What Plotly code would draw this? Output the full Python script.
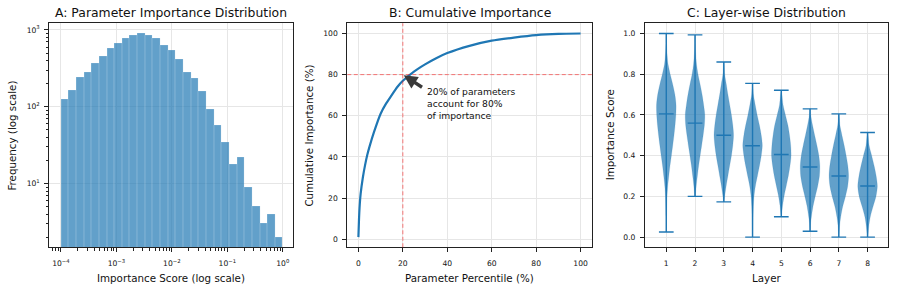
import numpy as np
import plotly.graph_objects as go

# ---------------- DATA ----------------
# Panel A: histogram (log-spaced bins from 1e-4 to 1, 29 bins)
hist_bin_edges = np.logspace(-4, 0, 30)
hist_counts = [126, 165, 239, 281, 371, 458, 571, 677, 787, 851, 905, 851, 787, 631,
               537, 410, 283, 234, 158, 94, 58, 34, 18, 22, 9, 5, 3, 4, 2]

# Panel B: cumulative importance curve
cum_percentile = [0, 0.25, 0.5, 1, 2, 3, 4, 5, 7, 10, 12.5, 15, 17.5, 20, 25, 30, 35,
                  40, 50, 60, 70, 80, 90, 100]
cum_importance = [1, 9, 15, 22, 30, 36, 41, 45, 52, 61, 66, 70, 74, 77, 81.5, 85, 88,
                  90.5, 94, 96.5, 98, 99.2, 99.8, 100]
annot_percentile = 20
annot_importance = 80

# Panel C: layer-wise violin summaries
layers = [1, 2, 3, 4, 5, 6, 7, 8]
layer_min = [0.025, 0.20, 0.173, 0.0, 0.10, 0.029, 0.0, 0.0]
layer_max = [1.0, 0.993, 0.86, 0.755, 0.721, 0.63, 0.605, 0.514]
layer_median = [0.605, 0.56, 0.50, 0.449, 0.406, 0.344, 0.30, 0.251]
# density profiles (score level, relative half-width)
layer_levels = [
    [0.025, 0.1, 0.2, 0.25, 0.3, 0.35, 0.4, 0.45, 0.5, 0.55, 0.6, 0.65, 0.7, 0.75, 0.8, 0.85, 0.9, 0.95, 1.0],
    [0.2, 0.25, 0.3, 0.35, 0.4, 0.45, 0.5, 0.55, 0.6, 0.65, 0.7, 0.75, 0.8, 0.85, 0.9, 0.95, 0.993],
    [0.173, 0.2, 0.25, 0.3, 0.35, 0.4, 0.45, 0.5, 0.55, 0.6, 0.65, 0.7, 0.75, 0.8, 0.86],
    [0.0, 0.05, 0.1, 0.15, 0.2, 0.25, 0.3, 0.35, 0.4, 0.45, 0.5, 0.55, 0.6, 0.65, 0.7, 0.755],
    [0.1, 0.15, 0.2, 0.25, 0.3, 0.35, 0.4, 0.45, 0.5, 0.55, 0.6, 0.65, 0.721],
    [0.029, 0.07, 0.1, 0.15, 0.2, 0.25, 0.3, 0.35, 0.4, 0.45, 0.5, 0.55, 0.6, 0.63],
    [0.0, 0.05, 0.1, 0.15, 0.2, 0.25, 0.3, 0.35, 0.4, 0.45, 0.5, 0.55, 0.605],
    [0.0, 0.05, 0.1, 0.15, 0.2, 0.25, 0.3, 0.35, 0.4, 0.45, 0.514],
]
layer_widths = [
    [0.01, 0.03, 0.08, 0.15, 0.26, 0.38, 0.52, 0.66, 0.79, 0.9, 0.98, 1.0, 0.88, 0.66, 0.4, 0.18, 0.08, 0.03, 0.01],
    [0.03, 0.12, 0.24, 0.37, 0.52, 0.68, 0.83, 0.96, 1.0, 0.88, 0.72, 0.52, 0.3, 0.15, 0.07, 0.03, 0.01],
    [0.03, 0.09, 0.24, 0.42, 0.6, 0.78, 0.92, 1.0, 0.92, 0.78, 0.6, 0.42, 0.26, 0.09, 0.01],
    [0.01, 0.03, 0.05, 0.08, 0.15, 0.29, 0.5, 0.71, 0.89, 1.0, 0.89, 0.7, 0.47, 0.27, 0.09, 0.01],
    [0.02, 0.12, 0.28, 0.5, 0.72, 0.89, 1.0, 0.96, 0.84, 0.67, 0.42, 0.18, 0.01],
    [0.01, 0.06, 0.14, 0.3, 0.53, 0.78, 0.96, 1.0, 0.9, 0.7, 0.47, 0.25, 0.07, 0.01],
    [0.02, 0.07, 0.2, 0.4, 0.68, 0.91, 1.0, 0.92, 0.75, 0.55, 0.32, 0.11, 0.01],
    [0.03, 0.12, 0.28, 0.56, 0.86, 1.0, 0.88, 0.67, 0.42, 0.16, 0.01],
]

# ---------------- STYLE ----------------
W, H = 897, 291
FONT = "DejaVu Sans"
BLUE = "#1f77b4"
FILL = "rgba(31,119,180,0.7)"
TXT = "#111111"
GRID = "#e6e6e6"
SPINE = "#222222"
VIOLIN_HALF = 0.34
CAP_PX = 10.5

def px_x(p):
    return p / W

def px_y(p):
    return 1 - p / H

y_dom = [px_y(247.3), px_y(23.3)]
dom_a = [px_x(49.3), px_x(293.3)]
dom_b = [px_x(347.3), px_x(591.7)]
dom_c = [px_x(645), px_x(887.7)]

fig = go.Figure()

# ---- Panel A: histogram ----
edges = np.asarray(hist_bin_edges)
fig.add_trace(go.Bar(
    x=edges[:-1], y=hist_counts, width=np.diff(edges), offset=0,
    marker=dict(color=FILL, line=dict(color="rgba(255,255,255,0.3)", width=0.5)),
    xaxis="x", yaxis="y", showlegend=False,
))

# ---- Panel B: cumulative curve ----
fig.add_trace(go.Scatter(
    x=cum_percentile, y=cum_importance, mode="lines",
    line=dict(color=BLUE, width=2.2, shape="spline", smoothing=0.6),
    xaxis="x2", yaxis="y2", showlegend=False,
))

# ---- Panel C: violins ----
for lay, lv, wd in zip(layers, layer_levels, layer_widths):
    lv = np.asarray(lv, float)
    wd = np.asarray(wd, float) * VIOLIN_HALF
    xs = np.concatenate([lay + wd, (lay - wd)[::-1]])
    ys = np.concatenate([lv, lv[::-1]])
    fig.add_trace(go.Scatter(
        x=xs, y=ys, mode="lines", fill="toself", fillcolor=FILL,
        line=dict(color="rgba(31,119,180,0.3)", width=0.5, shape="spline", smoothing=0.8),
        xaxis="x3", yaxis="y3", showlegend=False, hoverinfo="skip",
    ))

wx, wy = [], []
for lay, lo, hi in zip(layers, layer_min, layer_max):
    wx += [lay, lay, None]
    wy += [lo, hi, None]
fig.add_trace(go.Scatter(
    x=wx, y=wy, mode="lines", line=dict(color=BLUE, width=1.4),
    xaxis="x3", yaxis="y3", showlegend=False,
))
cap_x = layers * 3
cap_y = layer_min + layer_max + layer_median
fig.add_trace(go.Scatter(
    x=cap_x, y=cap_y, mode="markers",
    marker=dict(symbol="line-ew-open", size=CAP_PX, color=BLUE,
                line=dict(color=BLUE, width=1.4)),
    xaxis="x3", yaxis="y3", showlegend=False,
))

# ---- axes ----
tickfont = dict(family=FONT, size=7.6, color=TXT)
common = dict(showline=True, mirror=True, linecolor=SPINE, linewidth=1.1,
              ticks="outside", ticklen=4, tickwidth=1, tickcolor=SPINE,
              showgrid=True, gridcolor=GRID, gridwidth=0.8, zeroline=False,
              tickfont=tickfont)
xcommon = dict(common, ticklabelstandoff=5)
ycommon = dict(common, ticklabelstandoff=3)

x_minor = [m * 10.0 ** e for e in range(-5, 1) for m in range(2, 10)]
y_minor = [m * 10.0 ** e for e in range(0, 4) for m in range(2, 10)]

fig.update_layout(
    xaxis=dict(xcommon, domain=dom_a, anchor="y", type="log", range=[-4.21, 0.19],
               tickvals=[1e-4, 1e-3, 1e-2, 1e-1, 1],
               ticktext=["10<sup>−4</sup>", "10<sup>−3</sup>", "10<sup>−2</sup>",
                         "10<sup>−1</sup>", "10<sup>0</sup>"],
               minor=dict(ticks="outside", ticklen=2.2, tickcolor=SPINE,
                          tickvals=x_minor, showgrid=False)),
    yaxis=dict(ycommon, domain=y_dom, anchor="x", type="log", range=[0.17, 3.087],
               tickvals=[10, 100, 1000],
               ticktext=["10<sup>1</sup>", "10<sup>2</sup>", "10<sup>3</sup>"],
               minor=dict(ticks="outside", ticklen=2.2, tickcolor=SPINE,
                          tickvals=y_minor, showgrid=False)),
    xaxis2=dict(xcommon, domain=dom_b, anchor="y2", range=[-5, 105],
                tickvals=[0, 20, 40, 60, 80, 100]),
    yaxis2=dict(ycommon, domain=y_dom, anchor="x2", range=[-3.95, 104.95],
                tickvals=[0, 20, 40, 60, 80, 100]),
    xaxis3=dict(xcommon, domain=dom_c, anchor="y3", range=[0.26, 8.7],
                tickvals=layers),
    yaxis3=dict(ycommon, domain=y_dom, anchor="x3", range=[-0.05, 1.05],
                tickvals=[0, 0.2, 0.4, 0.6, 0.8, 1.0], tickformat=".1f"),
    width=W, height=H, margin=dict(l=0, r=0, t=0, b=0),
    paper_bgcolor="white", plot_bgcolor="white",
    font=dict(family=FONT, color=TXT),
    bargap=0,
)

# reference lines in panel B
fig.add_shape(type="line", xref="x2", yref="y2 domain", x0=annot_percentile, x1=annot_percentile,
              y0=0, y1=1, line=dict(color="rgba(255,0,0,0.5)", width=1, dash="4px,2.5px"))
fig.add_shape(type="line", xref="x2 domain", yref="y2", x0=0, x1=1,
              y0=annot_importance, y1=annot_importance,
              line=dict(color="rgba(255,0,0,0.5)", width=1, dash="4px,2.5px"))

# arrow + text annotation
fig.add_annotation(xref="x2", yref="y2", x=annot_percentile + 0.4, y=annot_importance - 0.3,
                   axref="x2", ayref="y2", ax=29.3, ay=73.4, text="", showarrow=True,
                   arrowhead=2, arrowsize=0.8, arrowwidth=3.4, arrowcolor="#3a3a3a",
                   standoff=0, startstandoff=0)
fig.add_annotation(xref="x2", yref="y2", x=30, y=75.3, xanchor="left", yanchor="top",
                   text="20% of parameters<br>account for 80%<br>of importance",
                   align="left", showarrow=False,
                   font=dict(family=FONT, size=9.2, color=TXT))

# titles
title_font = dict(family=FONT, size=12.4, color=TXT)
for dom, t in [(dom_a, "A: Parameter Importance Distribution"),
               (dom_b, "B: Cumulative Importance"),
               (dom_c, "C: Layer-wise Distribution")]:
    fig.add_annotation(xref="paper", yref="paper", x=(dom[0] + dom[1]) / 2, y=px_y(12.7),
                       xanchor="center", yanchor="middle", text=t, showarrow=False,
                       font=title_font)

label_font = dict(family=FONT, size=10.3, color=TXT)
for dom, t in [(dom_a, "Importance Score (log scale)"),
               (dom_b, "Parameter Percentile (%)"),
               (dom_c, "Layer")]:
    fig.add_annotation(xref="paper", yref="paper", x=(dom[0] + dom[1]) / 2, y=px_y(277.5),
                       xanchor="center", yanchor="middle", text=t, showarrow=False,
                       font=label_font)
for xp, t in [(12.3, "Frequency (log scale)"), (309.3, "Cumulative Importance (%)"),
              (610, "Importance Score")]:
    fig.add_annotation(xref="paper", yref="paper", x=px_x(xp), y=(y_dom[0] + y_dom[1]) / 2,
                       xanchor="center", yanchor="middle", text=t, textangle=-90,
                       showarrow=False, font=label_font)

fig.write_html("out.html", config={"displayModeBar": False},
               post_script="document.body.style.margin='0';")
